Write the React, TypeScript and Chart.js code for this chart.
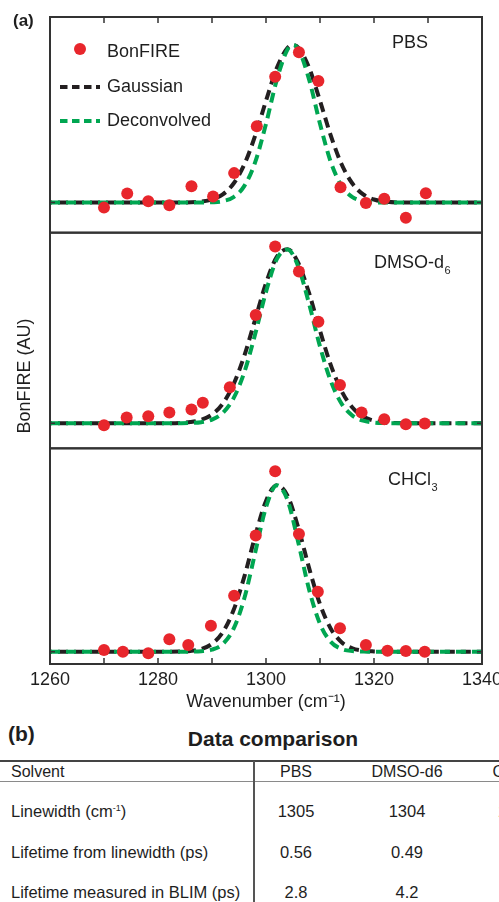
import React, { useEffect, useRef } from 'react';
import { Chart, registerables } from 'chart.js';

Chart.register(...registerables);

const FONT = "'Liberation Sans', Arial, Helvetica, sans-serif";
const TEXT = '#1e1e1e';
const RED = '#e8262c';
const GREEN = '#00a651';
const BLACK = '#231f20';
const FRAME = '#333333';

// ---------- panel (a) data ----------
const xTickLabels = [1260, 1280, 1300, 1320, 1340];
const xTickMarks = [1270, 1280, 1290, 1300, 1310, 1320, 1330];

// PBS
const pbsX = [1270, 1274.3, 1278.2, 1282.1, 1286.2, 1290.2, 1294.1, 1298.3, 1301.7, 1306.1, 1309.7, 1313.8, 1318.5, 1321.9, 1325.9, 1329.6];
const pbsY = [-0.032, 0.057, 0.008, -0.017, 0.104, 0.038, 0.187, 0.484, 0.798, 0.954, 0.771, 0.097, -0.002, 0.025, -0.097, 0.059];
const pbsCurveX = [1260, 1284, 1288, 1290, 1292, 1294, 1296, 1298, 1300, 1302, 1304, 1305, 1306, 1308, 1310, 1312, 1314, 1316, 1318, 1320, 1322, 1326, 1340];
const pbsGauss = [0, 0.0004, 0.0064, 0.0196, 0.052, 0.121, 0.243, 0.425, 0.646, 0.854, 0.983, 1.0, 0.983, 0.854, 0.646, 0.425, 0.243, 0.121, 0.052, 0.0196, 0.0064, 0.0004, 0];
const pbsDecon = [0, 0, 0.0003, 0.002, 0.0093, 0.035, 0.106, 0.257, 0.5, 0.779, 0.973, 1.0, 0.973, 0.779, 0.5, 0.257, 0.106, 0.035, 0.0093, 0.002, 0.0003, 0, 0];

// shared curve grid for DMSO-d6 and CHCl3
const curveX = [1260, 1282, 1284, 1286, 1288, 1290, 1292, 1294, 1296, 1298, 1300, 1302, 1304, 1306, 1308, 1310, 1312, 1314, 1316, 1318, 1320, 1322, 1324, 1326, 1340];

// DMSO-d6
const dmsoX = [1270, 1274.2, 1278.2, 1282.1, 1286.2, 1288.3, 1293.3, 1298.1, 1301.7, 1306.1, 1309.7, 1313.7, 1317.7, 1321.9, 1325.9, 1329.4];
const dmsoY = [-0.012, 0.033, 0.04, 0.062, 0.079, 0.117, 0.206, 0.622, 1.015, 0.871, 0.583, 0.219, 0.062, 0.023, -0.006, -0.002];
const dmsoGauss = [0, 0.0006, 0.002, 0.0068, 0.0197, 0.05, 0.113, 0.224, 0.389, 0.596, 0.804, 0.955, 0.999, 0.919, 0.745, 0.531, 0.334, 0.185, 0.09, 0.0385, 0.0145, 0.0048, 0.0014, 0.0003, 0];
const dmsoDecon = [0, 0, 0.0003, 0.0016, 0.0062, 0.021, 0.0595, 0.144, 0.294, 0.512, 0.754, 0.942, 0.998, 0.897, 0.683, 0.441, 0.242, 0.112, 0.044, 0.0147, 0.004, 0.001, 0, 0, 0];

// CHCl3
const chclX = [1270, 1273.5, 1278.2, 1282.1, 1285.6, 1289.8, 1294.1, 1298.1, 1301.7, 1306.1, 1309.6, 1313.7, 1318.5, 1322.5, 1325.9, 1329.4];
const chclY = [0.01, 0.0, -0.01, 0.075, 0.04, 0.155, 0.336, 0.697, 1.084, 0.707, 0.36, 0.141, 0.04, 0.006, 0.004, 0.0];
const chclGauss = [0, 0.0002, 0.0011, 0.0045, 0.0157, 0.047, 0.117, 0.25, 0.452, 0.695, 0.905, 1.0, 0.935, 0.742, 0.5, 0.285, 0.138, 0.057, 0.0197, 0.0058, 0.0015, 0.0003, 0, 0, 0];
const chclDecon = [0, 0, 0, 0.0004, 0.0026, 0.0124, 0.046, 0.138, 0.322, 0.595, 0.867, 0.999, 0.909, 0.653, 0.371, 0.167, 0.059, 0.0164, 0.0036, 0.0006, 0, 0, 0, 0, 0];

// y ranges (per panel, baseline = 0, fitted peak = 1)
const pbsRange = [-0.191, 1.178];
const dmsoRange = [-0.144, 1.094];
const chclRange = [-0.074, 1.221];

const panelNames = [
  { main: 'PBS', sub: '' },
  { main: 'DMSO-d', sub: '6' },
  { main: 'CHCl', sub: '3' },
];

// ---------- panel (b) table ----------
const tableColumns = ['PBS', 'DMSO-d6', 'CHCl3'];
const rowLabels = ['Linewidth', 'Lifetime from linewidth (ps)', 'Lifetime measured in BLIM (ps)'];
const linewidthValues = ['1305', '1304', '1302'];
const lifetimeFromLinewidth = ['0.56', '0.49', '0.57'];
const lifetimeBLIM = ['2.8', '4.2', '5.1'];

const zip = (xs: number[], ys: number[]) => xs.map((x, i) => ({ x, y: ys[i] }));

const pointSet = (xs: number[], ys: number[], yAxisID: string) => ({
  label: 'BonFIRE',
  data: zip(xs, ys),
  yAxisID,
  xAxisID: 'x',
  showLine: false,
  pointRadius: 6,
  pointHoverRadius: 6,
  pointBorderWidth: 0,
  pointBackgroundColor: RED,
  backgroundColor: RED,
  borderColor: RED,
});

const lineSet = (label: string, xs: number[], ys: number[], yAxisID: string, color: string, dashOffset: number) => ({
  label,
  data: zip(xs, ys),
  yAxisID,
  xAxisID: 'x',
  showLine: true,
  pointRadius: 0,
  borderColor: color,
  backgroundColor: color,
  borderWidth: 4,
  borderDash: [10, 6],
  borderDashOffset: dashOffset,
  cubicInterpolationMode: 'monotone',
  fill: false,
});

const yScale = (range: number[], w: number) => ({
  type: 'linear',
  position: 'right',
  stack: 'panels',
  stackWeight: 1,
  weight: w,
  min: range[0],
  max: range[1],
  offset: false,
  ticks: { display: false },
  grid: { display: false, drawTicks: false },
  border: { display: false },
  title: { display: false },
  afterFit: (s: any) => { s.width = 0; },
});

function drawSubText(ctx: CanvasRenderingContext2D, main: string, sub: string, x: number, y: number) {
  ctx.font = `18px ${FONT}`;
  ctx.textAlign = 'left';
  ctx.textBaseline = 'middle';
  ctx.fillText(main, x, y);
  if (sub) {
    const w = ctx.measureText(main).width;
    ctx.font = `11px ${FONT}`;
    ctx.fillText(sub, x + w + 0.5, y + 8);
  }
}

const overlay = {
  id: 'overlay',
  afterDatasetsDraw(chart: any) {
    const ctx: CanvasRenderingContext2D = chart.ctx;
    const xs = chart.scales.x;
    const ys = [chart.scales.y1, chart.scales.y2, chart.scales.y3];
    const L = chart.chartArea.left;
    const R = chart.chartArea.right;
    ctx.save();
    // frames
    ctx.strokeStyle = FRAME;
    ctx.lineWidth = 2;
    ys.forEach((s: any) => ctx.strokeRect(L, s.top, R - L, s.bottom - s.top));
    // inward tick marks
    ctx.lineWidth = 1.5;
    ctx.beginPath();
    xTickMarks.forEach((v) => {
      const px = xs.getPixelForValue(v);
      ctx.moveTo(px, ys[0].top);
      ctx.lineTo(px, ys[0].top + 6);
      ctx.moveTo(px, ys[2].bottom);
      ctx.lineTo(px, ys[2].bottom - 6);
    });
    ys.forEach((s: any) => {
      const py = s.getPixelForValue(0);
      ctx.moveTo(L, py);
      ctx.lineTo(L + 5, py);
      ctx.moveTo(R, py);
      ctx.lineTo(R - 5, py);
    });
    ctx.stroke();

    ctx.fillStyle = TEXT;
    // panel names
    const nameX = [392, 374, 388];
    const nameDy = [26, 30, 32];
    ys.forEach((s: any, i: number) => {
      drawSubText(ctx, panelNames[i].main, panelNames[i].sub, nameX[i], s.top + nameDy[i]);
    });

    // legend (inside top panel)
    const ds = chart.data.datasets;
    const top = ys[0].top;
    ctx.fillStyle = ds[0].pointBackgroundColor;
    ctx.beginPath();
    ctx.arc(80, top + 32, 6, 0, Math.PI * 2);
    ctx.fill();
    const legendLines = [
      { d: ds[6], y: top + 70 },
      { d: ds[3], y: top + 104 },
    ];
    legendLines.forEach(({ d, y }) => {
      ctx.strokeStyle = d.borderColor;
      ctx.lineWidth = d.borderWidth;
      ctx.setLineDash([7.5, 4.5]);
      ctx.beginPath();
      ctx.moveTo(60, y);
      ctx.lineTo(100, y);
      ctx.stroke();
    });
    ctx.setLineDash([]);
    ctx.fillStyle = TEXT;
    ctx.font = `18px ${FONT}`;
    ctx.textAlign = 'left';
    ctx.textBaseline = 'middle';
    ctx.fillText(ds[0].label, 107, top + 35);
    ctx.fillText(ds[6].label, 107, top + 70);
    ctx.fillText(ds[3].label, 107, top + 104);

    // y title
    ctx.save();
    ctx.translate(25, 376);
    ctx.rotate(-Math.PI / 2);
    ctx.textAlign = 'center';
    ctx.textBaseline = 'middle';
    ctx.font = `18px ${FONT}`;
    ctx.fillText('BonFIRE (AU)', 0, 0);
    ctx.restore();

    // panel tag
    ctx.font = `bold 17px ${FONT}`;
    ctx.textAlign = 'left';
    ctx.fillText('(a)', 13, 21);
    ctx.restore();
  },
};

function T({ x, y, size, bold, align, children }: any) {
  const lh = Math.round(size * 1.3);
  const style: React.CSSProperties = {
    position: 'absolute',
    top: y - lh / 2,
    left: x,
    lineHeight: lh + 'px',
    fontSize: size,
    fontWeight: bold ? 700 : 400,
    whiteSpace: 'nowrap',
    color: TEXT,
  };
  if (align === 'center') style.transform = 'translateX(-50%)';
  return <div style={style}>{children}</div>;
}

export default function App() {
  const ref = useRef<HTMLCanvasElement>(null);
  useEffect(() => {
    document.body.style.margin = '0';
    document.documentElement.style.overflow = 'hidden';
    Chart.defaults.font.family = FONT;
    Chart.defaults.color = TEXT;
    const chart = new Chart(ref.current as HTMLCanvasElement, {
      type: 'scatter',
      data: {
        datasets: [
          pointSet(pbsX, pbsY, 'y1'),
          pointSet(dmsoX, dmsoY, 'y2'),
          pointSet(chclX, chclY, 'y3'),
          lineSet('Deconvolved', pbsCurveX, pbsDecon, 'y1', GREEN, 0),
          lineSet('Deconvolved', curveX, dmsoDecon, 'y2', GREEN, 0),
          lineSet('Deconvolved', curveX, chclDecon, 'y3', GREEN, 0),
          lineSet('Gaussian', pbsCurveX, pbsGauss, 'y1', BLACK, 8),
          lineSet('Gaussian', curveX, dmsoGauss, 'y2', BLACK, 8),
          lineSet('Gaussian', curveX, chclGauss, 'y3', BLACK, 8),
        ] as any,
      },
      options: {
        responsive: false,
        animation: false,
        events: [],
        layout: { padding: { left: 50, right: 58, top: 17, bottom: 0 } },
        plugins: { legend: { display: false }, tooltip: { enabled: false } },
        scales: {
          x: {
            type: 'linear',
            position: 'bottom',
            min: 1260,
            max: 1340,
            afterBuildTicks: (s: any) => { s.ticks = xTickLabels.map((v) => ({ value: v })); },
            ticks: { padding: 5, font: { size: 18 }, color: TEXT, callback: (v: any) => String(v), maxRotation: 0, autoSkip: false },
            grid: { display: false, drawTicks: false },
            border: { display: false },
            title: { display: true, text: 'Wavenumber (cm⁻¹)', font: { size: 18 }, color: TEXT, padding: 0 },
            afterFit: (s: any) => { s.height = 49; },
          },
          y1: yScale(pbsRange, 1),
          y2: yScale(dmsoRange, 2),
          y3: yScale(chclRange, 3),
        } as any,
      },
      plugins: [overlay],
    });
    return () => chart.destroy();
  }, []);

  const colX = [296, 407, 516];
  const rowY = [811, 852, 892];
  const rowValues = [linewidthValues, lifetimeFromLinewidth, lifetimeBLIM];

  return (
    <div style={{ position: 'relative', width: 499, height: 902, overflow: 'hidden', fontFamily: FONT, background: '#fff' }}>
      <canvas ref={ref} width={540} height={713} style={{ position: 'absolute', left: 0, top: 0, width: 540, height: 713 }} />
      <T x={8} y={733} size={21} bold>(b)</T>
      <T x={273} y={738} size={21} bold align="center">Data comparison</T>
      <div style={{ position: 'absolute', left: 0, top: 760, width: 560, height: 2, background: '#444' }} />
      <div style={{ position: 'absolute', left: 0, top: 781, width: 560, height: 1, background: '#8a8a8a' }} />
      <div style={{ position: 'absolute', left: 253, top: 761, width: 2, height: 141, background: '#555' }} />
      <T x={11} y={771} size={16}>Solvent</T>
      {tableColumns.map((c, i) => (
        <T key={c} x={colX[i]} y={771} size={16} align="center">{c}</T>
      ))}
      {rowLabels.map((r, ri) => (
        <T key={r} x={11} y={rowY[ri]} size={16.5}>
          {r}
          {ri === 0 ? (
            <span>
              {' (cm'}
              <span style={{ fontSize: 9, position: 'relative', top: -6 }}>-1</span>
              {')'}
            </span>
          ) : null}
        </T>
      ))}
      {rowValues.map((vals, ri) =>
        vals.map((v, ci) => (
          <T key={ri + '-' + ci} x={colX[ci]} y={rowY[ri]} size={16.5} align="center">{v}</T>
        ))
      )}
    </div>
  );
}
